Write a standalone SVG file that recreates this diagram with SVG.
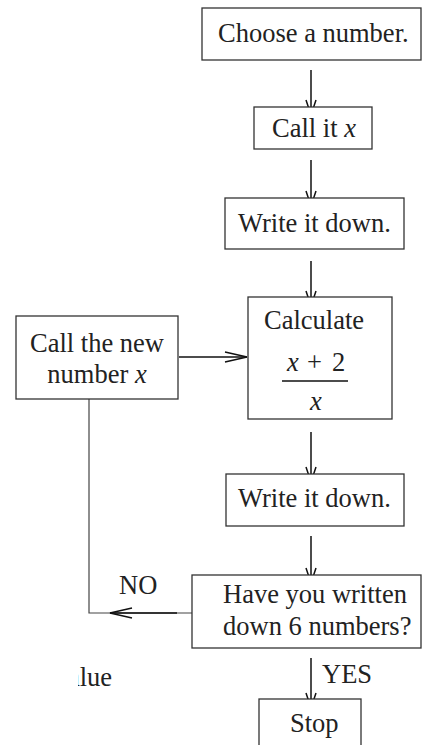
<svg xmlns="http://www.w3.org/2000/svg" width="422" height="745" viewBox="0 0 422 745">
<defs>
<style>
.box{fill:#fff;stroke:#333;stroke-width:1.3}
.t{font-family:"Liberation Serif","Times New Roman",serif;font-size:26.5px;fill:#222}
.i{font-style:italic}
.arr{fill:none;stroke:#111;stroke-width:1.5}
.thin{fill:none;stroke:#444;stroke-width:1.2}
</style>
<marker id="hv" markerUnits="userSpaceOnUse" markerWidth="16" markerHeight="12" refX="15" refY="5" orient="auto" viewBox="0 0 16 10" overflow="visible">
<path d="M0,0 L15,5 L0,10" fill="none" stroke="#111" stroke-width="1.5"/>
</marker>
<marker id="hh" markerUnits="userSpaceOnUse" markerWidth="23" markerHeight="12" refX="22" refY="5" orient="auto" viewBox="0 0 23 10" overflow="visible">
<path d="M0,0 L22,5 L0,10" fill="none" stroke="#111" stroke-width="1.5"/>
</marker>
<clipPath id="clipL"><rect x="78" y="640" width="60" height="60"/></clipPath>
</defs>
<rect width="422" height="745" fill="#fff"/>
<g id="connectors">
<path class="arr" d="M311,70 V115" marker-end="url(#hv)"/>
<path class="arr" d="M311,160 V206" marker-end="url(#hv)"/>
<path class="arr" d="M311,261 V306" marker-end="url(#hv)"/>
<path class="arr" d="M311,432 V482" marker-end="url(#hv)"/>
<path class="arr" d="M311,536 V583" marker-end="url(#hv)"/>
<path class="arr" d="M311,658 V708" marker-end="url(#hv)"/>
<path class="arr" d="M179,357 H247" marker-end="url(#hh)"/>
<path class="thin" d="M89,399 V613 H192"/>
<path class="arr" d="M177,613 H110" marker-end="url(#hh)"/>
<text class="t" x="119" y="594">NO</text>
<text class="t" x="322" y="683">YES</text>
</g>
<g id="n1"><rect class="box" x="202" y="8" width="219" height="52"/><text class="t" x="218" y="42">Choose a number.</text></g>
<g id="n2"><rect class="box" x="254" y="107" width="118" height="42"/><text class="t" x="272" y="137">Call it <tspan class="i">x</tspan></text></g>
<g id="n3"><rect class="box" x="225" y="198" width="179" height="51"/><text class="t" x="238" y="232">Write it down.</text></g>
<g id="n4"><rect class="box" x="248" y="297" width="144" height="122"/>
<text class="t" x="264" y="329">Calculate</text>
<text class="t" y="371"><tspan class="i" x="287">x</tspan><tspan x="307">+</tspan><tspan x="332">2</tspan></text>
<line x1="282" y1="381" x2="348" y2="381" stroke="#111" stroke-width="1.3"/>
<text class="t i" x="316" y="410" text-anchor="middle">x</text></g>
<g id="n5"><rect class="box" x="16" y="316" width="162" height="83"/>
<text class="t" x="97" y="352" text-anchor="middle">Call the new</text>
<text class="t" x="97" y="383" text-anchor="middle">number <tspan class="i">x</tspan></text></g>
<g id="n6"><rect class="box" x="226" y="474" width="178" height="52"/><text class="t" x="238" y="507">Write it down.</text></g>
<g id="n7"><rect class="box" x="192" y="575" width="229" height="73"/>
<text class="t" x="223" y="603">Have you written</text>
<text class="t" x="223" y="635">down 6 numbers?</text></g>
<g id="n8"><rect class="box" x="259" y="699" width="102" height="60"/><text class="t" x="290" y="732">Stop</text></g>
<text class="t" x="68" y="686" clip-path="url(#clipL)">alue</text>
</svg>
